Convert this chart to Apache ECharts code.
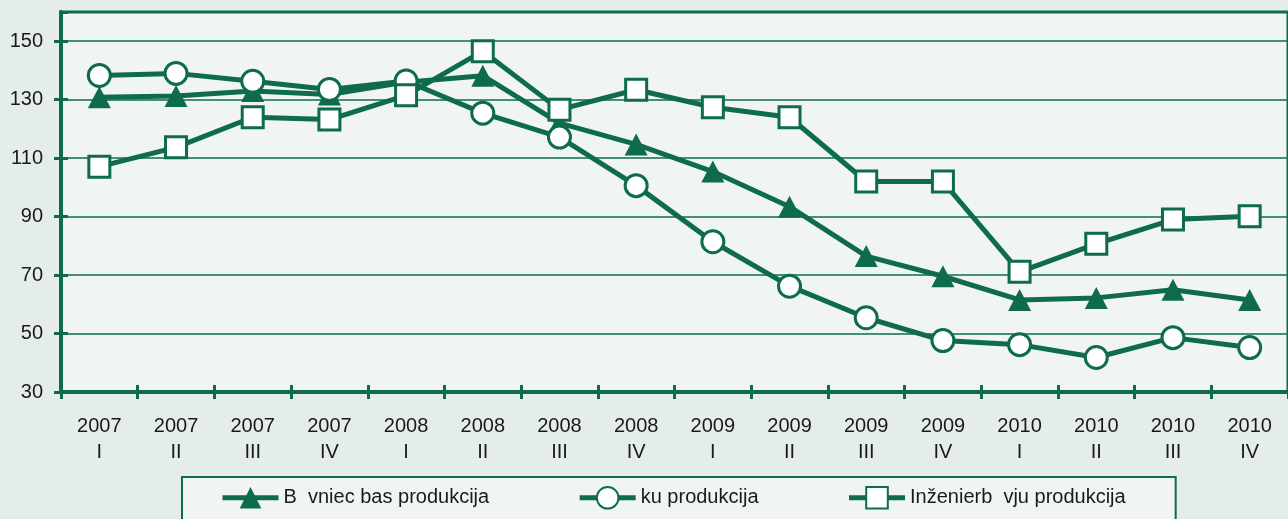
<!DOCTYPE html>
<html>
<head>
<meta charset="utf-8">
<script src="https://cdn.jsdelivr.net/npm/echarts@6/dist/echarts.min.js"></script>
<style>
  html, body { margin: 0; padding: 0; background: #e5edea; }
  #chart { width: 1288px; height: 519px; }
</style>
</head>
<body>
<div id="chart"></div>
<script>
// quarters on the x axis
var years = ["2007", "2007", "2007", "2007", "2008", "2008", "2008", "2008",
             "2009", "2009", "2009", "2009", "2010", "2010", "2010", "2010"];
var quarters = ["I", "II", "III", "IV", "I", "II", "III", "IV",
                "I", "II", "III", "IV", "I", "II", "III", "IV"];
var categories = years.map(function (y, i) { return y + "\n" + quarters[i]; });

// series values
var buvniecibaName = "B  vniec bas produkcija";
var buvniecibaValues = [130.8, 131.3, 133.0, 131.8, 136.0, 138.2, 122.0, 114.7,
                        105.4, 93.4, 76.5, 69.6, 61.5, 62.2, 65.0, 61.5];

var ekuName = "ku produkcija";
var ekuValues = [138.3, 139.0, 136.3, 133.5, 136.4, 125.4, 117.2, 100.6,
                 81.4, 66.2, 55.4, 47.6, 46.2, 41.8, 48.6, 45.2];

var inzenierbuvjuName = "Inženierb  vju produkcija";
var inzenierbuvjuValues = [107.1, 113.7, 124.0, 123.2, 131.5, 146.6, 126.6, 133.4,
                           127.4, 124.0, 102.0, 102.0, 71.1, 80.7, 89.0, 90.1];

var GREEN = "#0e6b4b";
var FONT = "'Liberation Sans', Arial, sans-serif";

function lineSeries(name, values, symbol, filled, size) {
  return {
    name: name,
    type: "line",
    data: values,
    symbol: symbol,
    symbolSize: size,
    showAllSymbol: true,
    lineStyle: { color: GREEN, width: 5 },
    itemStyle: {
      color: filled ? GREEN : "#ffffff",
      borderColor: GREEN,
      borderWidth: filled ? 0 : 3
    },
    emphasis: { disabled: true }
  };
}

var chart = echarts.init(document.getElementById("chart"), null, { renderer: "canvas" });

var option = {
  backgroundColor: "#e5edea",
  animation: false,
  textStyle: { fontFamily: FONT },
  grid: {
    left: 61, top: 12, right: -9, bottom: 127,
    show: true,
    backgroundColor: "#f0f5f3",
    borderColor: GREEN,
    borderWidth: 3
  },
  legend: {
    left: 182,
    top: 477,
    orient: "horizontal",
    padding: [9, 50, 30, 38],
    itemGap: 88,
    itemWidth: 56,
    itemHeight: 27,
    borderColor: GREEN,
    borderWidth: 2,
    backgroundColor: "#f0f5f3",
    lineStyle: { width: 5 },
    textStyle: { fontFamily: FONT, fontSize: 20, color: "#1a1a1a" },
    data: [buvniecibaName, ekuName, inzenierbuvjuName]
  },
  xAxis: [
    {
      type: "category",
      data: categories,
      boundaryGap: true,
      axisLine: { lineStyle: { color: GREEN, width: 4 } },
      axisTick: { show: true, length: 7, lineStyle: { color: GREEN, width: 3 } },
      axisLabel: {
        interval: 0, margin: 21, fontSize: 20, lineHeight: 26,
        color: "#1a1a1a", fontFamily: FONT
      },
      splitLine: { show: false }
    },
    {
      type: "category",
      data: categories,
      position: "bottom",
      boundaryGap: true,
      axisLine: { show: false },
      axisTick: { show: true, inside: true, length: 7, lineStyle: { color: GREEN, width: 3 } },
      axisLabel: { show: false },
      splitLine: { show: false }
    }
  ],
  yAxis: [
    {
      type: "value",
      min: 30, max: 160, interval: 20,
      axisLine: { show: true, lineStyle: { color: GREEN, width: 4 } },
      axisTick: { show: true, length: 7, lineStyle: { color: GREEN, width: 3 } },
      axisLabel: {
        margin: 18, fontSize: 20, color: "#1a1a1a", fontFamily: FONT,
        showMaxLabel: false
      },
      splitLine: { show: true, lineStyle: { color: GREEN, width: 1.5 } }
    },
    {
      type: "value",
      min: 30, max: 160, interval: 20,
      position: "left",
      axisLine: { show: false },
      axisTick: { show: true, inside: true, length: 7, lineStyle: { color: GREEN, width: 3 } },
      axisLabel: { show: false },
      splitLine: { show: false }
    }
  ],
  series: [
    lineSeries(buvniecibaName, buvniecibaValues, "triangle", true, [23, 22]),
    lineSeries(ekuName, ekuValues, "circle", false, 22),
    lineSeries(inzenierbuvjuName, inzenierbuvjuValues, "rect", false, 21)
  ]
};

chart.setOption(option);
</script>
</body>
</html>
